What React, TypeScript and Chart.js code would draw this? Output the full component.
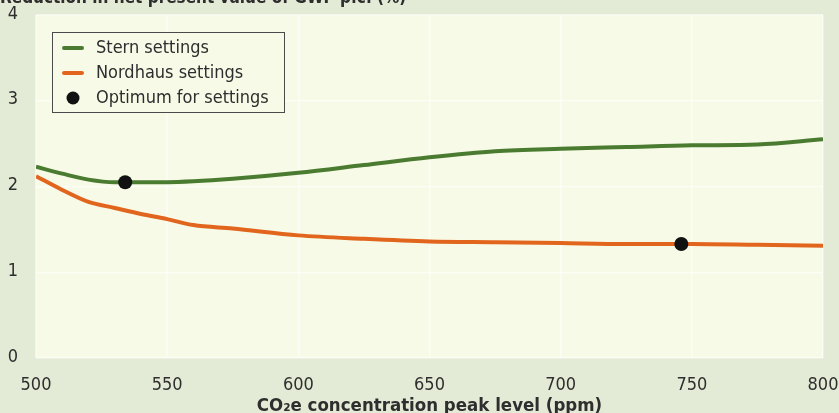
import React, { useEffect, useRef } from "react";
import { Chart, registerables } from "chart.js";

Chart.register(...registerables);

const FONT = "'Liberation Sans Narrow', 'DejaVu Sans Condensed', 'Arial Narrow', sans-serif";

const TITLE = "Reduction in net present value of GWP p.c. (%)";
const X_TITLE = "CO\u2082e concentration peak level (ppm)";

const concentration = [500, 510, 520, 530, 540, 550, 560, 575, 600, 625, 650, 675, 700, 725, 750, 775, 800];
const sternValues = [2.23, 2.15, 2.08, 2.05, 2.05, 2.05, 2.06, 2.09, 2.16, 2.25, 2.34, 2.41, 2.44, 2.46, 2.48, 2.49, 2.55];
const nordhausValues = [2.12, 1.96, 1.82, 1.75, 1.68, 1.62, 1.55, 1.51, 1.43, 1.39, 1.36, 1.35, 1.34, 1.33, 1.33, 1.32, 1.31];

const optimumX = [534, 746];
const optimumY = [2.05, 1.33];

const xTicks = [500, 550, 600, 650, 700, 750, 800];
const yTicks = [0, 1, 2, 3, 4];

const seriesLabels = ["Stern settings", "Nordhaus settings", "Optimum for settings"];

const OUTER_BG = "#e3ead5";
const PLOT_BG = "#f7fae6";
const GREEN = "#4a7b31";
const ORANGE = "#e1651d";
const TEXT = "#2e2e2e";

const backgroundPlugin = {
  id: "bgPlugin",
  beforeDraw(chart: any) {
    const { ctx, chartArea } = chart;
    ctx.save();
    ctx.fillStyle = OUTER_BG;
    ctx.fillRect(0, 0, chart.width, chart.height);
    ctx.fillStyle = PLOT_BG;
    ctx.fillRect(chartArea.left, chartArea.top, chartArea.right - chartArea.left, chartArea.bottom - chartArea.top);
    ctx.restore();
  },
  afterDraw(chart: any) {
    const { ctx } = chart;
    ctx.save();
    // clipped title at the very top
    ctx.fillStyle = TEXT;
    ctx.font = `bold 17px ${FONT}`;
    ctx.textBaseline = "alphabetic";
    ctx.textAlign = "left";
    ctx.fillText(TITLE, 0, 3);

    // legend box
    const bx = 52.5, by = 32.5, bw = 232, bh = 80;
    ctx.fillStyle = PLOT_BG;
    ctx.fillRect(bx, by, bw, bh);
    ctx.strokeStyle = "#4a4a4a";
    ctx.lineWidth = 1;
    ctx.strokeRect(bx, by, bw, bh);
    const rows = [48, 73, 98];
    const ds = chart.data.datasets;
    ctx.font = `18px ${FONT}`;
    ctx.textBaseline = "middle";
    rows.forEach((ry, i) => {
      if (i < 2) {
        ctx.strokeStyle = ds[i].borderColor;
        ctx.lineWidth = 4;
        ctx.lineCap = "round";
        ctx.beginPath();
        ctx.moveTo(64, ry);
        ctx.lineTo(82, ry);
        ctx.stroke();
      } else {
        ctx.fillStyle = ds[2].backgroundColor;
        ctx.beginPath();
        ctx.arc(73, ry, 6.5, 0, Math.PI * 2);
        ctx.fill();
      }
      ctx.fillStyle = TEXT;
      ctx.fillText(seriesLabels[i], 96, ry);
    });
    ctx.restore();
  },
};

export default function App() {
  const ref = useRef<HTMLCanvasElement | null>(null);

  useEffect(() => {
    if (!ref.current) return;
    const chart = new Chart(ref.current, {
      type: "line",
      data: {
        datasets: [
          {
            label: seriesLabels[0],
            data: concentration.map((x, i) => ({ x, y: sternValues[i] })),
            borderColor: GREEN,
            borderWidth: 4,
            pointRadius: 0,
            cubicInterpolationMode: "monotone",
            order: 2,
          },
          {
            label: seriesLabels[1],
            data: concentration.map((x, i) => ({ x, y: nordhausValues[i] })),
            borderColor: ORANGE,
            borderWidth: 4,
            pointRadius: 0,
            cubicInterpolationMode: "monotone",
            order: 2,
          },
          {
            label: seriesLabels[2],
            data: optimumX.map((x, i) => ({ x, y: optimumY[i] })),
            showLine: false,
            borderColor: "#111111",
            backgroundColor: "#111111",
            pointRadius: 7,
            pointBorderWidth: 0,
            order: 1,
          },
        ],
      },
      options: {
        responsive: false,
        animation: false,
        layout: { padding: { top: 15, right: 16, left: 0, bottom: 0 } },
        plugins: {
          legend: { display: false },
          tooltip: { enabled: false },
          title: { display: false },
        },
        scales: {
          x: {
            type: "linear",
            min: 500,
            max: 800,
            afterBuildTicks: (scale: any) => {
              scale.ticks = xTicks.map((v) => ({ value: v }));
            },
            afterFit: (scale: any) => {
              scale.height = 55;
              scale.paddingLeft = 0;
              scale.paddingRight = 0;
            },
            grid: { color: "rgba(255,255,255,0.6)", lineWidth: 1.5, drawTicks: false },
            border: { display: false },
            ticks: {
              color: TEXT,
              font: { family: FONT, size: 18 },
              padding: 17,
              maxRotation: 0,
              autoSkip: false,
            },
            title: {
              display: true,
              text: X_TITLE,
              color: TEXT,
              font: { family: FONT, size: 18.5, weight: "bold" },
              padding: { top: 0, bottom: -4 },
            },
          },
          y: {
            min: 0,
            max: 4,
            afterBuildTicks: (scale: any) => {
              scale.ticks = yTicks.map((v) => ({ value: v }));
            },
            afterFit: (scale: any) => {
              scale.width = 36;
              scale.paddingTop = 0;
              scale.paddingBottom = 0;
            },
            grid: { color: "rgba(255,255,255,0.6)", lineWidth: 1.5, drawTicks: false },
            border: { display: false },
            ticks: {
              color: TEXT,
              font: { family: FONT, size: 18 },
              padding: 18,
              labelOffset: -1,
            },
          },
        },
      },
      plugins: [backgroundPlugin],
    } as any);
    return () => chart.destroy();
  }, []);

  return (
    <div style={{ position: "fixed", left: 0, top: 0, width: 839, height: 413 }}>
      <canvas ref={ref} width={839} height={413} style={{ display: "block", width: 839, height: 413 }} />
    </div>
  );
}
